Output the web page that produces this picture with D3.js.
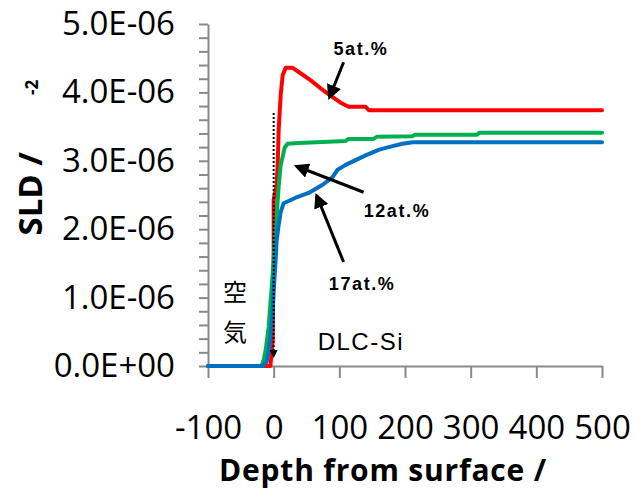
<!DOCTYPE html>
<html>
<head>
<meta charset="utf-8">
<script src="https://cdn.jsdelivr.net/npm/d3@7"></script>
<style>
  body { margin: 0; background: #fff; }
  svg { display: block; }
</style>
</head>
<body>
<svg id="chart" width="634" height="490"></svg>
<script>
// depth (Å) and SLD (x1e-6 Å^-2)
const red5 = [
  [-100, 0], [-5, 0], [-1.5, 0.38], [0, 1.7], [0, 2.43], [4.6, 2.65], [6.1, 2.94],
  [7.6, 3.45], [10.7, 3.96], [13.7, 4.25], [18.3, 4.36], [29, 4.36], [41, 4.28],
  [56, 4.18], [71.5, 4.06], [87, 3.95], [102, 3.85], [114, 3.79], [140, 3.79],
  [145, 3.74], [500, 3.74]
];
const green12 = [
  [-100, 0], [-18.3, 0], [-15.2, 0.09], [-12.2, 0.23], [-7.6, 0.57], [-4.6, 0.96],
  [-3, 1.15], [0, 1.55], [4.6, 2.21], [7.6, 2.62], [10.7, 2.94], [13.7, 3.06],
  [16.7, 3.19], [21.3, 3.25], [38, 3.26], [109.6, 3.29], [114, 3.32], [152, 3.32],
  [157, 3.35], [211.6, 3.36], [214.6, 3.38], [309, 3.38], [313.5, 3.41], [500, 3.41]
];
const blue17 = [
  [-100, 0], [-16.7, 0], [-10.7, 0.06], [-7.6, 0.23], [-4.6, 0.45], [-1.5, 0.82],
  [0, 1.11], [3, 1.55], [4.6, 1.84], [7.6, 2.06], [10.7, 2.25], [15.2, 2.38],
  [33.5, 2.46], [53.3, 2.53], [74.6, 2.65], [89.8, 2.76], [97.4, 2.87], [109.6, 2.94],
  [124.8, 3.01], [140, 3.08], [159.8, 3.16], [175, 3.2], [196, 3.25], [211.6, 3.27],
  [500, 3.27]
];
const seriesNames = ["5at.%", "12at.%", "17at.%"];
const seriesColors = ["#ff0000", "#00b050", "#0070c0"];

const xTicks = [-100, 0, 100, 200, 300, 400, 500];
const xTickLabels = ["-100", "0", "100", "200", "300", "400", "500"];
const yTicks = [0, 1, 2, 3, 4, 5];
const yTickLabels = ["0.0E+00", "1.0E-06", "2.0E-06", "3.0E-06", "4.0E-06", "5.0E-06"];

// label position and arrow [x1, y1, x2, y2], in data units
const notes = [
  { text: "5at.%", at: [91, 4.55], arrow: [106.5, 4.44, 85, 3.93] },
  { text: "12at.%", at: [137, 2.18], arrow: [137, 2.54, 35, 2.92] },
  { text: "17at.%", at: [84, 1.11], arrow: [106.5, 1.52, 65.5, 2.49] }
];
const interfaceLine = [0, 3.7, 0, 0.13];

const svg = d3.select("#chart");
const x = d3.scaleLinear().domain([-100, 500]).range([208, 602]);
const y = d3.scaleLinear().domain([0, 5]).range([366, 24]);

const axisColor = "#898989";
const numFont = "'Open Sans', sans-serif";

// y axis, minor ticks every 0.2
const yAxis = d3.axisLeft(y)
  .tickValues(d3.range(0, 26).map(i => i * 0.2))
  .tickSize(9)
  .tickSizeOuter(0)
  .tickPadding(24)
  .tickFormat(d => {
    const i = yTicks.findIndex(t => Math.abs(t - d) < 1e-9);
    return i >= 0 ? yTickLabels[i] : "";
  });

const gy = svg.append("g").attr("transform", "translate(208,0)").call(yAxis);
gy.select(".domain").attr("stroke", axisColor).attr("stroke-width", 2);
gy.selectAll(".tick line").attr("stroke", axisColor).attr("stroke-width", 2);
gy.selectAll(".tick text")
  .attr("font-family", numFont).attr("font-size", 33).attr("fill", "#000");

const xAxis = d3.axisBottom(x)
  .tickValues(xTicks)
  .tickSize(12)
  .tickSizeOuter(0)
  .tickPadding(38)
  .tickFormat((d, i) => xTickLabels[i]);

const gx = svg.append("g").attr("transform", "translate(0,366)").call(xAxis);
gx.select(".domain").attr("stroke", axisColor).attr("stroke-width", 2);
gx.selectAll(".tick line").attr("stroke", axisColor).attr("stroke-width", 2);
gx.selectAll(".tick text")
  .attr("font-family", numFont).attr("font-size", 33).attr("fill", "#000");

// axis titles
svg.append("text")
  .attr("x", 219).attr("y", 481)
  .attr("font-family", numFont).attr("font-weight", "bold").attr("font-size", 30)
  .attr("letter-spacing", 0.8)
  .text("Depth from surface /");

svg.append("text")
  .attr("transform", "translate(42,152) rotate(-90)")
  .attr("text-anchor", "end")
  .attr("font-family", numFont).attr("font-weight", "bold").attr("font-size", 33)
  .text("SLD /");

svg.append("text")
  .attr("transform", "translate(38,95) rotate(-90)")
  .attr("font-family", numFont).attr("font-weight", "bold").attr("font-size", 17)
  .text("-2");

// curves
const line = d3.line().x(d => x(d[0])).y(d => y(d[1]));
[red5, green12, blue17].forEach((s, i) => {
  svg.append("path")
    .datum(s)
    .attr("d", line)
    .attr("fill", "none")
    .attr("stroke", seriesColors[i])
    .attr("stroke-width", 4)
    .attr("stroke-linejoin", "round")
    .attr("stroke-linecap", "round");
});

// arrowheads
const defs = svg.append("defs");
defs.append("marker")
  .attr("id", "head")
  .attr("viewBox", "0 0 10 10")
  .attr("refX", 8).attr("refY", 5)
  .attr("markerWidth", 5).attr("markerHeight", 5)
  .attr("orient", "auto")
  .append("path").attr("d", "M0,0L10,5L0,10z").attr("fill", "#000");

defs.append("marker")
  .attr("id", "smallhead")
  .attr("viewBox", "0 0 10 10")
  .attr("refX", 9).attr("refY", 5)
  .attr("markerWidth", 4).attr("markerHeight", 4)
  .attr("orient", "auto")
  .append("path").attr("d", "M0,0L10,5L0,10z").attr("fill", "#000");

// dotted interface marker
svg.append("line")
  .attr("x1", x(interfaceLine[0])).attr("y1", y(interfaceLine[1]))
  .attr("x2", x(interfaceLine[2])).attr("y2", y(interfaceLine[3]))
  .attr("stroke", "#000").attr("stroke-width", 2)
  .attr("stroke-dasharray", "2,2")
  .attr("marker-end", "url(#smallhead)");

// notes
notes.forEach(n => {
  svg.append("line")
    .attr("x1", x(n.arrow[0])).attr("y1", y(n.arrow[1]))
    .attr("x2", x(n.arrow[2])).attr("y2", y(n.arrow[3]))
    .attr("stroke", "#000").attr("stroke-width", 3)
    .attr("marker-end", "url(#head)");
  svg.append("text")
    .attr("x", x(n.at[0])).attr("y", y(n.at[1]))
    .attr("font-family", "'Liberation Sans', Arial, sans-serif")
    .attr("font-weight", "bold").attr("font-size", 18)
    .attr("letter-spacing", 1.6)
    .text(n.text);
});

// region labels
svg.append("text")
  .attr("x", x(-59)).attr("y", 301).attr("text-anchor", "middle")
  .attr("font-family", "'Noto Sans CJK JP', sans-serif").attr("font-size", 24)
  .text("空");
svg.append("text")
  .attr("x", x(-59)).attr("y", 341).attr("text-anchor", "middle")
  .attr("font-family", "'Noto Sans CJK JP', sans-serif").attr("font-size", 24)
  .text("気");
svg.append("text")
  .attr("x", x(67)).attr("y", y(0.23))
  .attr("font-family", "'Liberation Sans', Arial, sans-serif").attr("font-size", 24)
  .attr("letter-spacing", 1.5)
  .text("DLC-Si");
</script>
</body>
</html>
